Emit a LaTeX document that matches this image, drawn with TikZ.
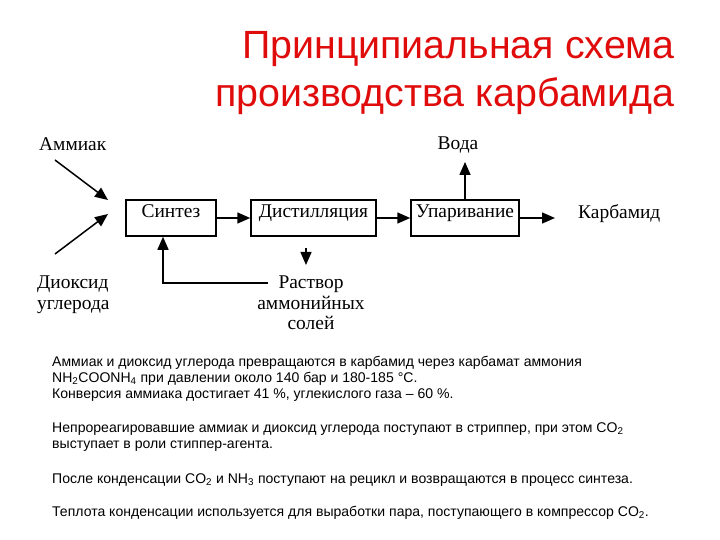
\documentclass[tikz,border=0pt]{standalone}
\usepackage{fontspec}
\setmainfont{Liberation Serif}
\newfontfamily\arialfont{Liberation Sans}
\usepackage{xcolor}
\usepackage{tikz}
\usetikzlibrary{arrows.meta,positioning}
\definecolor{titlered}{RGB}{224,12,12}

\begin{document}
\begin{tikzpicture}[x=1bp,y=-1bp,
  box/.style={draw,line width=1.5bp,minimum height=36bp,inner xsep=0pt,
    text height=10bp,text depth=10bp,font=\fontsize{19.5}{22}\selectfont},
  lbl/.style={font=\fontsize{19.5}{20.5}\selectfont,inner sep=2bp},
  arr/.style={line width=1.5bp,-{Triangle[length=13bp,width=11bp]}}]
  \useasboundingbox (0,0) rectangle (720,540);
  \fill[white] (0,0) rectangle (720,540);
  % title
  \node[titlered,anchor=base east,inner sep=0pt,font=\arialfont\fontsize{39.5}{49}\selectfont]
    (title1) at (675,59) {Принципиальная схема};
  \node[titlered,anchor=base east,inner sep=0pt,font=\arialfont\fontsize{39.5}{49}\selectfont]
    (title2) at (675,107) {производства карбамида};
  % process blocks
  \node[box,minimum width=90bp] (synth) at (171,218) {Синтез};
  \node[box,minimum width=125bp] (dist) at (313.5,218) {Дистилляция};
  \node[box,minimum width=108bp] (evap) at (465,218) {Упаривание};
  % inputs and outputs
  \node[lbl,anchor=base west] (ammonia) at (37,151) {Аммиак};
  \node[lbl,anchor=north west,align=left] (co2) at (35,274) {Диоксид\\углерода};
  \node[lbl,anchor=north,align=center] (salts) at (311,274) {Раствор\\аммонийных\\солей};
  \node[lbl,anchor=base] (water) at (458,150) {Вода};
  \node[lbl,anchor=base west] (urea) at (576,219) {Карбамид};
  \coordinate (nh3from) at (55,160);
  \coordinate (nh3to) at (108,200);
  \coordinate (co2from) at (55,254);
  \coordinate (co2to) at (108,214);
  \coordinate (saltsin) at ([xshift=-5bp]salts.north);
  \coordinate (recstart) at (268,283);
  % flows
  \draw[arr] (nh3from) -- (nh3to);
  \draw[arr] (co2from) -- (co2to);
  \draw[arr] (synth) -- (dist);
  \draw[arr] (dist) -- (evap);
  \draw[arr,shorten >=21bp] (evap) -- (evap -| urea.west);
  \draw[arr,shorten >=6bp] (evap) -- (evap |- water.south);
  \draw[arr,shorten <=11bp,shorten >=9bp] (saltsin |- dist.south) -- (saltsin);
  \draw[arr] (recstart) -| ([xshift=-8bp]synth.south);
  % notes
  \node[anchor=north west,align=left,inner sep=0pt,font=\arialfont\fontsize{14.1}{16.3}\selectfont]
    (notes) at (52,356) {Аммиак и диоксид углерода превращаются в карбамид через карбамат аммония\\
    NH\textsubscript{2}COONH\textsubscript{4} при давлении около 140 бар и 180-185 °C.\\
    Конверсия аммиака достигает 41 \%, углекислого газа – 60 \%.\\[17bp]
    Непрореагировавшие аммиак и диоксид углерода поступают в стриппер, при этом CO\textsubscript{2}\\
    выступает в роли стиппер-агента.\\[19bp]
    После конденсации CO\textsubscript{2} и NH\textsubscript{3} поступают на рецикл и возвращаются в процесс синтеза.\\[16.3bp]
    Теплота конденсации используется для выработки пара, поступающего в компрессор CO\textsubscript{2}.};
\end{tikzpicture}
\end{document}
